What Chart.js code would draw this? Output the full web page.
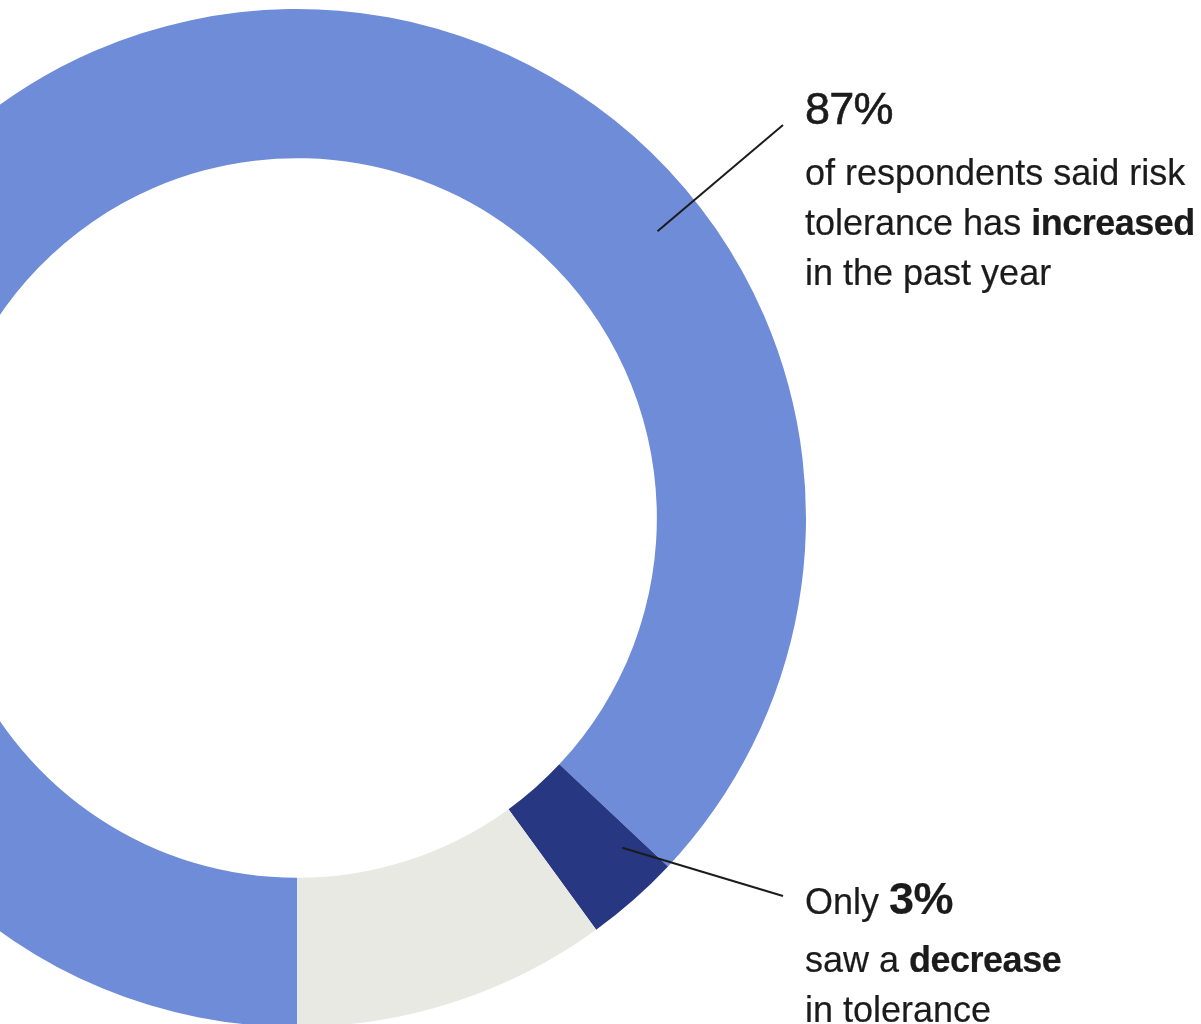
<!DOCTYPE html>
<html>
<head>
<meta charset="utf-8">
<script src="https://cdn.jsdelivr.net/npm/chart.js@4.4.1/dist/chart.umd.min.js"></script>
<style>
  html, body { margin: 0; padding: 0; background: #fff; overflow: hidden; }
  body { width: 1201px; height: 1024px; position: relative; font-family: "Liberation Sans", Arial, sans-serif; color: #1b1b1b; }
  #wrap { position: absolute; left: -212px; top: 0; width: 1413px; height: 1027px; }
  .note { position: absolute; left: 805px; top: 0; white-space: nowrap; }
  .line { position: absolute; left: 0; font-size: 36px; line-height: 50px; -webkit-text-stroke: 0.2px #1b1b1b; }
  .big { font-size: 45px; -webkit-text-stroke: 0.6px #1b1b1b; letter-spacing: -0.8px; }
  .pct { font-size: 45px; font-weight: 700; line-height: 0; letter-spacing: -0.5px; }
  b { font-weight: 700; letter-spacing: -0.5px; }
</style>
</head>
<body>
<div id="wrap"><canvas id="ring" width="1413" height="1027"></canvas></div>

<div class="note">
  <div class="line big" style="top:84px">87%</div>
  <div class="line" style="top:147.5px">of respondents said risk</div>
  <div class="line" style="top:197.5px">tolerance has <b>increased</b></div>
  <div class="line" style="top:247.5px">in the past year</div>
</div>

<div class="note">
  <div class="line" style="top:877px">Only <span class="pct">3%</span></div>
  <div class="line" style="top:935px">saw a <b>decrease</b></div>
  <div class="line" style="top:985px">in tolerance</div>
</div>

<script>
// share of respondents by change in risk tolerance
const labels = ['Increased', 'Decreased', 'No change'];
const values = [87, 3, 10];
const colors = ['#6f8cd8', '#283782', '#e9e9e4'];

// leader lines: start on the ring (angle in degrees, radius as share of outer radius), end next to the notes
const leaders = [
  { angle: -38.5, r: 0.905, to: [783, 125] },
  { angle: 45.4, r: 0.91, to: [783, 896] }
];
const OFFSET_X = -212; // canvas is shifted left so the ring runs off the page

const leaderLines = {
  id: 'leaderLines',
  afterDatasetsDraw(chart) {
    const ctx = chart.ctx;
    const arc = chart.getDatasetMeta(0).data[0];
    const cx = arc.x, cy = arc.y;
    const outer = arc.outerRadius;
    ctx.save();
    ctx.strokeStyle = '#1b1b1b';
    ctx.lineWidth = 2;
    leaders.forEach(l => {
      const a = l.angle * Math.PI / 180;
      ctx.beginPath();
      ctx.moveTo(cx + Math.cos(a) * outer * l.r, cy + Math.sin(a) * outer * l.r);
      ctx.lineTo(l.to[0] - OFFSET_X, l.to[1]);
      ctx.stroke();
    });
    ctx.restore();
  }
};

new Chart(document.getElementById('ring'), {
  type: 'doughnut',
  data: {
    labels: labels,
    datasets: [{
      data: values,
      backgroundColor: colors,
      borderWidth: 0
    }]
  },
  options: {
    responsive: false,
    animation: false,
    rotation: 180,
    cutout: '70.7%',
    layout: { padding: { top: 9, right: 395 } },
    plugins: {
      legend: { display: false },
      tooltip: { enabled: false }
    }
  },
  plugins: [leaderLines]
});
</script>
</body>
</html>
